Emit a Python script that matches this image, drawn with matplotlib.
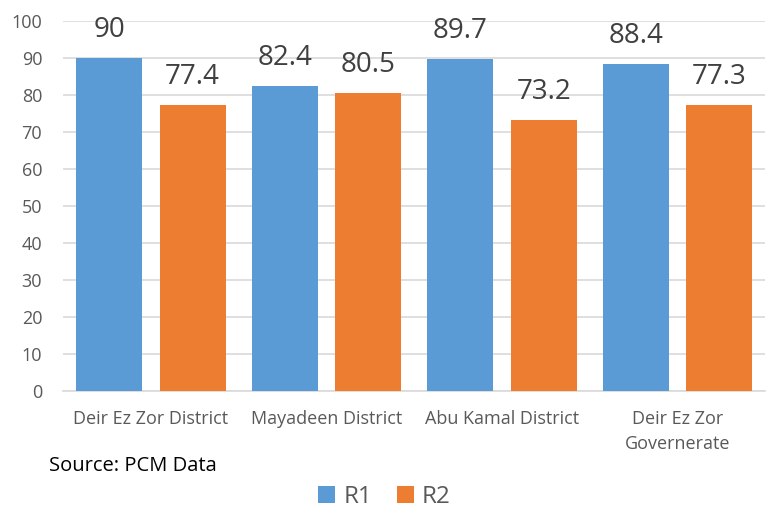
import numpy as np
import matplotlib.pyplot as plt

categorias = ["Deir Ez Zor District", "Mayadeen District", "Abu Kamal District", "Deir Ez Zor\nGovernerate"]
r1 = [90, 82.4, 89.7, 88.4]
r2 = [77.4, 80.5, 73.2, 77.3]

azul = "#5B9BD5"
naranja = "#ED7D31"
gris = "#595959"

plt.rcParams['font.family'] = ['Open Sans', 'DejaVu Sans']

fig = plt.figure(figsize=(7.69, 5.19), dpi=100)
ax = fig.add_axes([0.082, 0.2466, 0.913, 0.713])

x = np.arange(len(categorias))
ancho = 0.376
b1 = ax.bar(x - 0.238, r1, ancho, color=azul, label="R1", zorder=3)
b2 = ax.bar(x + 0.238, r2, ancho, color=naranja, label="R2", zorder=3)

# etiquetas de valor encima de cada barra
for barras, valores in [(b1, r1), (b2, r2)]:
    for barra, v in zip(barras, valores):
        ax.annotate(f"{v:g}", (barra.get_x() + barra.get_width() / 2, v),
                    xytext=(0, 10), textcoords="offset points",
                    ha="center", va="bottom", fontsize=20, color="#404040")

ax.set_xlim(-0.5, len(categorias) - 0.5)
ax.set_ylim(0, 100)
ax.set_yticks(range(0, 101, 10))
ax.set_xticks(x)
ax.set_xticklabels(categorias, fontsize=13, color=gris, linespacing=1.45)
ax.tick_params(axis="y", labelsize=13, labelcolor=gris, length=0, pad=15)
ax.tick_params(axis="x", length=0, pad=14)
ax.yaxis.grid(True, color="#D9D9D9", linewidth=1.2, zorder=0)
for lado in ["top", "right", "left"]:
    ax.spines[lado].set_visible(False)
ax.spines["bottom"].set_color("#D9D9D9")
ax.spines["bottom"].set_linewidth(1.2)

fig.text(0.064, 0.092, "Source: PCM Data", fontsize=14.5, color="black")

fig.legend(handles=[b1, b2], loc="center", bbox_to_anchor=(0.5, 0.042), ncol=2,
           frameon=False, fontsize=17.5, labelcolor=gris, handlelength=0.7,
           handleheight=0.7, handletextpad=0.35, columnspacing=1.0)

fig.savefig("out.png", dpi=100)
